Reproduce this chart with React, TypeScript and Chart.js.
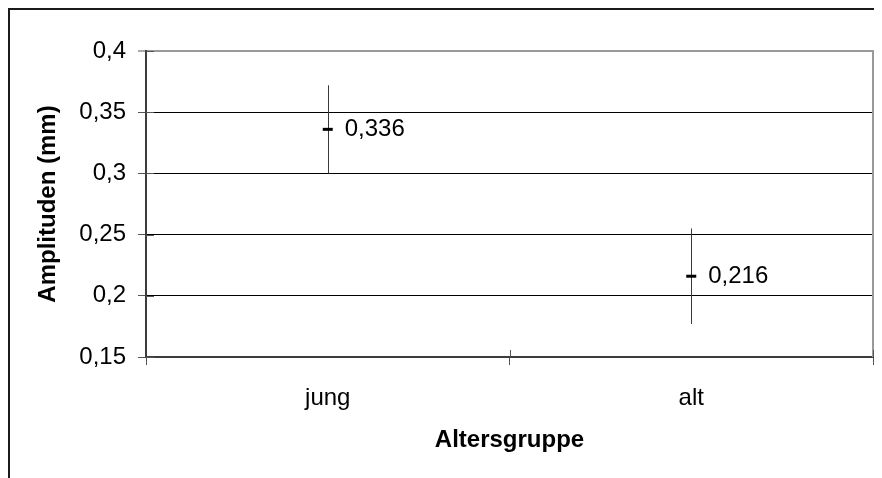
import { useEffect, useRef } from 'react';
import { Chart, registerables } from 'chart.js';

Chart.register(...registerables);

// Age groups, mean amplitudes and their error half-widths (mm)
const categories = ['jung', 'alt'];
const means = [0.336, 0.216];
const errors = [0.036, 0.039];

// Value axis range
const yMin = 0.15;
const yMax = 0.4;
const yStep = 0.05;

const xTitle = 'Altersgruppe';
const yTitle = 'Amplituden (mm)';

const FONT = "'Liberation Sans', Arial, Helvetica, sans-serif";
const FONT_SIZE = 24;

const decimal = (v: number, digits?: number) => {
  const s = digits === undefined ? String(Math.round(v * 1000) / 1000) : v.toFixed(digits);
  return s.replace('.', ',');
};

const chartDecor = {
  id: 'chartDecor',
  beforeDraw(chart: any) {
    const { ctx, width, height } = chart;
    ctx.save();
    ctx.fillStyle = '#1a1a1a';
    ctx.fillRect(0, 0, width, 2);
    ctx.fillRect(0, 0, 2, height);
    ctx.restore();
  },
  beforeDatasetsDraw(chart: any) {
    const { ctx, chartArea, scales } = chart;
    const x = scales.x;
    const y = scales.y;
    ctx.save();
    // right border of the plot area
    ctx.strokeStyle = '#9a9a9a';
    ctx.lineWidth = 2;
    ctx.beginPath();
    ctx.moveTo(chartArea.right, chartArea.top - 1);
    ctx.lineTo(chartArea.right, chartArea.bottom);
    ctx.stroke();

    // cross tick marks reaching into the plot area
    ctx.strokeStyle = '#555';
    ctx.lineWidth = 1;
    ctx.beginPath();
    const mid = (x.getPixelForValue(0) + x.getPixelForValue(1)) / 2;
    [mid, chartArea.right].forEach((px: number) => {
      const xx = Math.round(px) + 0.5;
      ctx.moveTo(xx, chartArea.bottom);
      ctx.lineTo(xx, chartArea.bottom - 7);
    });
    y.ticks.forEach((t: any) => {
      const yy = Math.round(y.getPixelForValue(t.value)) + 0.5;
      ctx.moveTo(chartArea.left, yy);
      ctx.lineTo(chartArea.left + 8, yy);
    });
    ctx.stroke();

    // error bars
    ctx.strokeStyle = '#3a3a3a';
    ctx.lineWidth = 1;
    ctx.beginPath();
    means.forEach((m, i) => {
      const xx = Math.round(x.getPixelForValue(i)) + 0.5;
      ctx.moveTo(xx, y.getPixelForValue(m + errors[i]));
      ctx.lineTo(xx, y.getPixelForValue(m - errors[i]));
    });
    ctx.stroke();
    ctx.restore();
  },
  afterDatasetsDraw(chart: any) {
    const { ctx, scales } = chart;
    const x = scales.x;
    const y = scales.y;
    ctx.save();
    ctx.fillStyle = '#000';
    ctx.font = `${FONT_SIZE}px ${FONT}`;
    ctx.textAlign = 'left';
    ctx.textBaseline = 'middle';
    means.forEach((m, i) => {
      ctx.fillText(decimal(m, 3), x.getPixelForValue(i) + 17, y.getPixelForValue(m));
    });
    ctx.restore();
  },
};

export default function App() {
  const canvasRef = useRef<HTMLCanvasElement | null>(null);

  useEffect(() => {
    document.documentElement.style.overflow = 'hidden';
    document.body.style.overflow = 'hidden';
    const canvas = canvasRef.current;
    if (!canvas) return;

    const chart = new Chart(canvas, {
      type: 'line',
      data: {
        labels: categories,
        datasets: [
          {
            data: means,
            showLine: false,
            pointStyle: 'line',
            pointRadius: 5,
            pointHoverRadius: 5,
            pointBorderWidth: 3,
            pointHoverBorderWidth: 3,
            pointBorderColor: '#000',
            borderColor: '#000',
            backgroundColor: '#000',
          },
        ],
      },
      options: {
        animation: false,
        responsive: false,
        devicePixelRatio: 1,
        events: [],
        layout: { padding: { top: 43, right: 9, left: 0, bottom: 0 } },
        plugins: {
          legend: { display: false },
          tooltip: { enabled: false },
        },
        scales: {
          x: {
            type: 'category',
            offset: true,
            afterFit: (scale: any) => {
              scale.height = 121;
            },
            grid: {
              offset: true,
              drawOnChartArea: false,
              drawTicks: true,
              tickLength: 8,
              tickColor: '#555',
              tickWidth: 1,
            },
            border: { display: true, color: '#3c3c3c', width: 2 },
            ticks: {
              color: '#000',
              padding: 19,
              font: { family: FONT, size: FONT_SIZE },
            },
            title: {
              display: true,
              text: xTitle,
              color: '#000',
              font: { family: FONT, size: FONT_SIZE, weight: 'bold' },
              padding: { top: 0, bottom: 23 },
            },
          },
          y: {
            type: 'linear',
            min: yMin,
            max: yMax,
            afterFit: (scale: any) => {
              scale.width = 138;
            },
            grid: {
              color: (c: any) => (c.tick && Math.abs(c.tick.value - yMax) < 1e-9 ? '#9a9a9a' : '#000'),
              lineWidth: (c: any) => (c.tick && Math.abs(c.tick.value - yMax) < 1e-9 ? 2 : 1),
              drawTicks: true,
              tickLength: 8,
              tickColor: '#555',
              tickWidth: 1,
            },
            border: { display: true, color: '#3c3c3c', width: 2 },
            ticks: {
              stepSize: yStep,
              color: '#000',
              padding: 12,
              font: { family: FONT, size: FONT_SIZE },
              callback: (v: any) => decimal(Number(v)),
            },
            title: {
              display: true,
              text: yTitle,
              color: '#000',
              font: { family: FONT, size: FONT_SIZE, weight: 'bold' },
              padding: { top: 26, bottom: 0 },
            },
          },
        },
      },
      plugins: [chartDecor],
    });

    return () => chart.destroy();
  }, []);

  return (
    <div style={{ width: 874, height: 470 }}>
      <canvas ref={canvasRef} width={874} height={470} style={{ display: 'block', width: 874, height: 470 }} />
    </div>
  );
}
